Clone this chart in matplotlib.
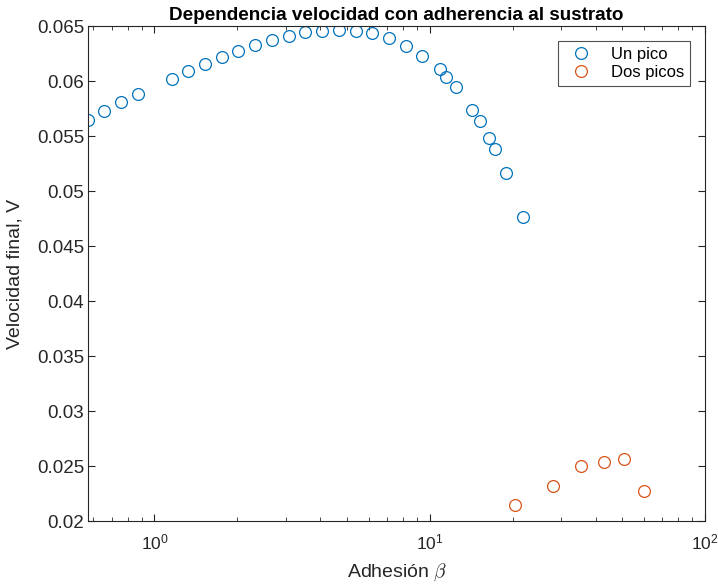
import numpy as np
import matplotlib.pyplot as plt
from matplotlib.ticker import FuncFormatter

# un pico
beta_1 = [0.575, 0.657, 0.756, 0.871, 1.155, 1.327, 1.525, 1.754, 2.015, 2.322,
          2.670, 3.070, 3.518, 4.055, 4.674, 5.375, 6.174, 7.099, 8.184, 9.408,
          10.87, 11.50, 12.46, 14.29, 15.23, 16.47, 17.26, 18.88, 21.82]
v_1 = [0.05645, 0.05730, 0.05806, 0.05882, 0.06021, 0.06094, 0.06157, 0.06221,
       0.06275, 0.06330, 0.06373, 0.06412, 0.06441, 0.06457, 0.06464, 0.06457,
       0.06434, 0.06388, 0.06321, 0.06230, 0.06106, 0.06039, 0.05943, 0.05736,
       0.05636, 0.05479, 0.05379, 0.05161, 0.04764]

# dos picos
beta_2 = [20.47, 27.96, 35.33, 42.92, 50.6, 59.97]
v_2 = [0.02148, 0.02321, 0.02497, 0.02536, 0.02564, 0.02273]

plt.rcParams.update({'font.family': ['Liberation Sans', 'DejaVu Sans'],
                     'mathtext.fontset': 'cm',
                     'font.size': 13})
axcol = '#262626'

fig = plt.figure(figsize=(7.18, 5.87), dpi=100)
ax = fig.add_axes([0.123, 0.1124, 0.859, 0.8433])

ax.plot(beta_1, v_1, 'o', mfc='none', mec='#0072BD', ms=8.5, mew=0.9, label='Un pico')
ax.plot(beta_2, v_2, 'o', mfc='none', mec='#D95319', ms=8.5, mew=0.9, label='Dos picos')

ax.set_xscale('log')
ax.set_xlim(0.575, 100)
ax.set_ylim(0.02, 0.065)
ax.set_yticks(np.arange(0.02, 0.0651, 0.005))
ax.yaxis.set_major_formatter(FuncFormatter(lambda v, p: f'{v:g}'))

ax.tick_params(which='both', direction='in', top=True, right=True,
               color=axcol, labelcolor=axcol, labelsize=13.5)
ax.tick_params(which='major', length=5)
ax.tick_params(which='minor', length=3)
ax.tick_params(axis='y', pad=3)
ax.tick_params(axis='x', pad=8, labelsize=12.5)
for s in ax.spines.values():
    s.set_color(axcol)
    s.set_linewidth(0.8)

ax.set_title('Dependencia velocidad con adherencia al sustrato',
             fontweight='bold', fontsize=13.6, color='black', pad=4)
ax.set_xlabel(r'Adhesión $\beta$', fontsize=14, color=axcol, labelpad=7)
ax.set_ylabel('Velocidad final, V', fontsize=14, color=axcol, labelpad=10)

leg = ax.legend(loc='upper right', fontsize=12, frameon=True, fancybox=False,
                edgecolor=axcol, borderaxespad=0.9, handletextpad=0.8,
                borderpad=0.35, labelspacing=0.2)
leg.get_frame().set_linewidth(0.8)

fig.savefig('out.png', dpi=100)
